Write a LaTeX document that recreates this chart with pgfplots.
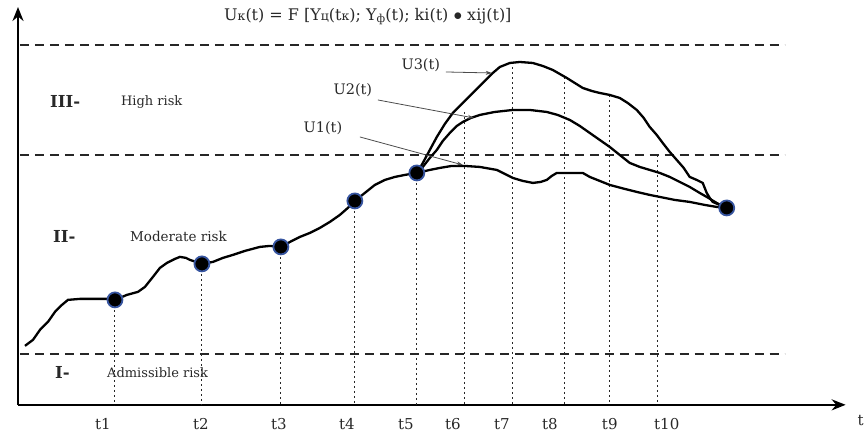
\documentclass[border=0pt]{standalone}
\usepackage{fontspec}
\setmainfont{DejaVu Serif}
\usepackage{pgfplots}
\pgfplotsset{compat=1.18}
\usetikzlibrary{arrows.meta}
\definecolor{rim}{RGB}{55,85,160}
\definecolor{txt}{RGB}{40,40,40}
\tikzset{
  tl/.style={font=\fontsize{15}{17}\selectfont, anchor=center, text=txt},
  vd/.style={black!85, line width=1.0pt, dash pattern=on 2.5pt off 2.5pt},
}
\begin{document}
\begin{tikzpicture}
\begin{axis}[
  scale only axis, width=867pt, height=433pt,
  xmin=0, xmax=867, ymin=0, ymax=433, y dir=reverse,
  hide axis, clip=false,
]
\path (axis cs:0,0) rectangle (axis cs:867,433);
% axes
\draw[line width=2.2pt, -{Stealth[length=14pt,width=11pt]}] (axis cs:18,405) -- (axis cs:846,405);
\draw[line width=2.2pt, -{Stealth[length=14pt,width=11pt]}] (axis cs:18,405) -- (axis cs:18,7);
% dashed zone borders
\addplot[black!85, line width=1.8pt, dash pattern=on 9pt off 6pt] coordinates {(20,45)(785,45)};
\addplot[black!85, line width=1.8pt, dash pattern=on 9pt off 6pt] coordinates {(20,155)(785,155)};
\addplot[black!85, line width=1.8pt, dash pattern=on 9pt off 6pt] coordinates {(20,354)(785,354)};
% vertical dotted lines
\addplot[vd] coordinates {(115,300)(115,405)};
\addplot[vd] coordinates {(202,264)(202,405)};
\addplot[vd] coordinates {(281,247)(281,405)};
\addplot[vd] coordinates {(355,201)(355,405)};
\addplot[vd] coordinates {(417,173)(417,405)};
\addplot[vd] coordinates {(465,112)(465,405)};
\addplot[vd] coordinates {(513,62)(513,405)};
\addplot[vd] coordinates {(565,77)(565,405)};
\addplot[vd] coordinates {(610,95)(610,405)};
\addplot[vd] coordinates {(658,155)(658,405)};
% base curve
\addplot[black, line width=2.3pt] coordinates {(25,346)(33,340)(40,330)(48,322)(55,312)(62,305)(68,300)(80,299)(95,299)(110,299)(115,300)(127,295)(138,292)(145,287)(153,277)(160,268)(167,263)(175,259)(180,257)(186,258)(190,260)(196,262)(202,264)(213,262)(223,258)(233,255)(245,251)(260,247)(270,246)(281,247)(292,241)(300,237)(310,233)(320,228)(330,222)(340,215)(348,208)(355,201)(365,193)(375,185)(385,180)(395,177)(405,175)(417,173)};
% U1
\addplot[black, line width=2.3pt] coordinates {(417,173)(430,170)(440,168)(452,166)(465,166)(480,167)(497,170)(505,174)(513,178)(523,181)(533,183)(541,182)(547,180)(552,176)(557,173)(565,173)(575,173)(583,173)(590,177)(600,181)(610,185)(625,189)(637,192)(650,195)(660,197)(675,200)(690,202)(705,205)(717,207)(727,208)};
% U2
\addplot[black, line width=2.3pt] coordinates {(417,173)(423,167)(430,158)(437,150)(443,141)(450,133)(457,126)(463,122)(471,118)(480,115)(495,112)(513,110)(530,110)(547,112)(558,115)(570,120)(580,126)(590,133)(600,140)(610,147)(620,155)(630,163)(640,167)(650,170)(660,173)(670,177)(680,182)(690,187)(700,193)(707,197)(717,203)(727,208)};
% U3
\addplot[black, line width=2.3pt] coordinates {(417,173)(423,163)(430,150)(437,137)(445,124)(453,113)(463,103)(473,93)(483,83)(493,73)(500,67)(510,63)(520,62)(533,63)(543,66)(553,70)(560,74)(567,78)(575,83)(583,88)(592,91)(600,93)(610,95)(620,98)(628,103)(637,110)(644,118)(650,127)(657,135)(663,143)(670,152)(677,160)(684,168)(690,177)(697,180)(703,183)(705,188)(707,193)(710,198)(713,202)(720,205)(727,208)};
% markers
\addplot[only marks, mark=*, mark size=7.5pt, mark options={fill=black, draw=rim, line width=1.8pt}] coordinates {(115,300)(202,264)(281,247)(355,201)(417,173)(727,208)};
% arrows to curves
\draw[black!70, line width=0.8pt, -{Stealth[length=6pt,width=4pt]}] (axis cs:446,72) -- (axis cs:492,73);
\draw[black!70, line width=0.8pt, -{Stealth[length=6pt,width=4pt]}] (axis cs:378,100) -- (axis cs:474,118);
\draw[black!70, line width=0.8pt, -{Stealth[length=6pt,width=4pt]}] (axis cs:360,137) -- (axis cs:463,165);
% curve labels
\node[font=\fontsize{14.5}{16}\selectfont, anchor=center, text=txt] at (axis cs:421,65) {U3(t)};
\node[font=\fontsize{14.5}{16}\selectfont, anchor=center, text=txt] at (axis cs:353,90) {U2(t)};
\node[font=\fontsize{14.5}{16}\selectfont, anchor=center, text=txt] at (axis cs:323,128) {U1(t)};
% zone labels
\node[font=\bfseries\fontsize{16.5}{18}\selectfont, anchor=west, text=txt, inner sep=0pt] at (axis cs:50,102) {III-};
\node[font=\fontsize{13}{15}\selectfont, anchor=west, text=txt, inner sep=0pt] at (axis cs:121,102) {High risk};
\node[font=\bfseries\fontsize{16.5}{18}\selectfont, anchor=west, text=txt, inner sep=0pt] at (axis cs:53,237) {II-};
\node[font=\fontsize{13.5}{15}\selectfont, anchor=west, text=txt, inner sep=0pt] at (axis cs:130,237) {Moderate risk};
\node[font=\bfseries\fontsize{16.5}{18}\selectfont, anchor=west, text=txt, inner sep=0pt] at (axis cs:55,373) {I-};
\node[font=\fontsize{13}{15}\selectfont, anchor=west, text=txt, inner sep=0pt] at (axis cs:107,373) {Admissible risk};
% title
\node[font=\fontsize{16}{18}\selectfont, anchor=center, text=txt] at (axis cs:368,17) {U{\fontsize{12.5}{14}\selectfont к}(t) = F [Y{\fontsize{12.5}{14}\selectfont ц}(t{\fontsize{12.5}{14}\selectfont к}); Y\raisebox{-2pt}{\fontsize{11}{13}\selectfont ф}(t); ki(t) $\bullet$ xij(t)]};
% tick labels
\node[tl] at (axis cs:103,424) {t1};
\node[tl] at (axis cs:201,424) {t2};
\node[tl] at (axis cs:279,424) {t3};
\node[tl] at (axis cs:347,424) {t4};
\node[tl] at (axis cs:406,424) {t5};
\node[tl] at (axis cs:453,424) {t6};
\node[tl] at (axis cs:502,424) {t7};
\node[tl] at (axis cs:550,424) {t8};
\node[tl] at (axis cs:610,424) {t9};
\node[tl] at (axis cs:667,424) {t10};
\node[tl] at (axis cs:861,421) {t};
\end{axis}
\end{tikzpicture}
\end{document}
